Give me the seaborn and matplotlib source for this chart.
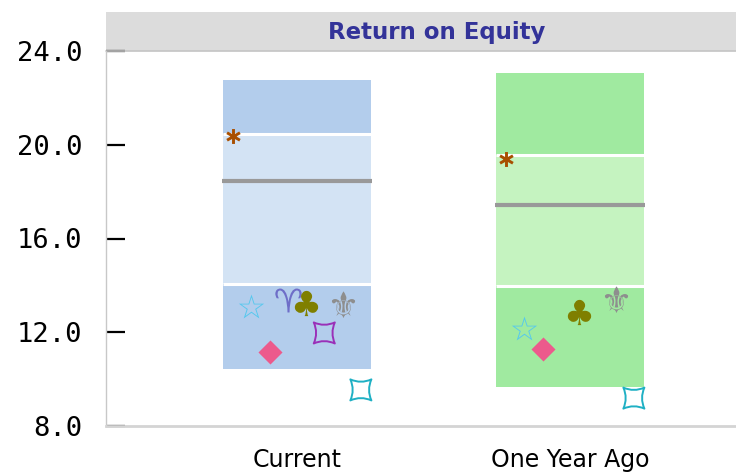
import numpy as np
import pandas as pd
import matplotlib
matplotlib.use("Agg")
import matplotlib.pyplot as plt
from matplotlib.path import Path
from matplotlib.patches import Rectangle
import seaborn as sns

# Return on equity distribution per period
categories = ["Current", "One Year Ago"]
range_low = [10.43, 9.66]
range_high = [22.76, 23.06]
quartile_low = [14.06, 13.97]
quartile_high = [20.44, 19.56]
median = [18.45, 17.43]

# Peer company values per period (nan where no value)
peer_names = ["Peer A", "Peer B", "Peer C", "Peer D", "Peer E", "Peer F", "Peer G", "Peer H"]
peer_a = [20.37, 19.39]
peer_b = [13.12, 12.18]
peer_c = [11.16, 11.28]
peer_d = [13.38, np.nan]
peer_e = [13.25, 12.86]
peer_f = [11.97, np.nan]
peer_g = [13.20, 13.42]
peer_h = [9.54, 9.19]
peer_values = [peer_a, peer_b, peer_c, peer_d, peer_e, peer_f, peer_g, peer_h]

y_ticks = [8, 12, 16, 20, 24]

# concave-sided square marker
k = 0.55
concave_square = Path(
    [(-1, -1), (0, -k), (1, -1), (k, 0), (1, 1), (0, k), (-1, 1), (-k, 0), (-1, -1), (-1, -1)],
    [Path.MOVETO, Path.CURVE3, Path.LINETO, Path.CURVE3, Path.LINETO,
     Path.CURVE3, Path.LINETO, Path.CURVE3, Path.LINETO, Path.CLOSEPOLY],
)

# six-spoke asterisk marker
spokes = []
codes = []
for ang in np.deg2rad([90, 150, 210]):
    dx, dy = np.cos(ang), np.sin(ang)
    spokes += [(-dx, -dy), (dx, dy)]
    codes += [Path.MOVETO, Path.LINETO]
asterisk = Path(spokes, codes)

peer_styles = [
    dict(marker=asterisk, color="#a84f00", s=115, linewidth=2.1, mode="line"),
    dict(marker="$\u2606$", color="#55c8ee", s=330, linewidth=0, mode="fill"),
    dict(marker="D", color="#ec5a8c", s=150, linewidth=0, mode="fill"),
    dict(marker="$\u2648$", color="#6e6ec8", s=360, linewidth=0, mode="fill"),
    dict(marker="$\u2663$", color="#7f7f00", s=330, linewidth=0, mode="fill"),
    dict(marker=concave_square, color="#9a30b8", s=230, linewidth=1.4, mode="outline"),
    dict(marker="$\u269C$", color="#8e8e8e", s=360, linewidth=0, mode="fill"),
    dict(marker=concave_square, color="#1fb0c4", s=230, linewidth=1.4, mode="outline"),
]
slot_offsets = [-0.234, -0.167, -0.100, -0.033, 0.033, 0.100, 0.167, 0.234]

sns.set_theme(style="white")
plt.rcParams["font.family"] = ["DejaVu Sans"]

fig = plt.figure(figsize=(7.36, 4.74), dpi=100)
ax = fig.add_axes([106 / 736, 1 - 426 / 474, 662 / 736, 375 / 474])

x = np.arange(len(categories))
box_w = 0.54
outer_colors = ["#b3cdec", "#a0eaa0"]
inner_colors = ["#d3e3f4", "#c5f3c0"]

lo = np.array(range_low)
hi = np.array(range_high)
q1 = np.array(quartile_low)
q3 = np.array(quartile_high)
ax.bar(x, hi - lo, bottom=lo, width=box_w, color=outer_colors, linewidth=0, zorder=1)
ax.bar(x, q3 - q1, bottom=q1, width=box_w, color=inner_colors, linewidth=0, zorder=2)
for i in range(len(categories)):
    ax.hlines([q1[i], q3[i]], x[i] - box_w / 2, x[i] + box_w / 2, colors="white", linewidth=2.2, zorder=3)
    ax.hlines(median[i], x[i] - box_w / 2 - 0.004, x[i] + box_w / 2 + 0.004,
              colors="#999999", linewidth=3, zorder=4)

for name, vals, style, off in zip(peer_names, peer_values, peer_styles, slot_offsets):
    df = pd.DataFrame({"x": x + off, "y": vals}).dropna()
    kw = dict(marker=style["marker"], s=style["s"], linewidth=style["linewidth"], zorder=5, legend=False)
    if style["mode"] == "outline":
        kw.update(facecolor="none", edgecolor=style["color"])
    else:
        kw.update(color=style["color"], edgecolor=style["color"])
    sns.scatterplot(data=df, x="x", y="y", ax=ax, **kw)

ax.set_xlim(-0.6996, -0.6996 + 662 / 273)
ax.set_ylim(8, 24)
ax.set_yticks(y_ticks)
ax.set_yticklabels([f"{v:.1f}" for v in y_ticks], family="DejaVu Sans Mono", fontsize=19.5, color="black")
ax.set_xticks(x)
ax.set_xticklabels(categories, fontsize=17, color="black")
ax.tick_params(axis="y", direction="in", length=14, width=1.6, color="black", pad=17, left=True)
ax.tick_params(axis="x", length=0, pad=16)
ax.set_xlabel("")
ax.set_ylabel("")

for side in ["top", "right"]:
    ax.spines[side].set_visible(False)
ax.spines["left"].set_color("#c8c8c8")
ax.spines["left"].set_linewidth(1)
ax.spines["bottom"].set_color("#d4d4d4")
ax.spines["bottom"].set_linewidth(2)

# title band
band = Rectangle((0, 1), 1, 39 / 375, transform=ax.transAxes, facecolor="#dcdcdc",
                 edgecolor="none", clip_on=False, zorder=0)
ax.add_patch(band)
ax.plot([0, 1], [1, 1], transform=ax.transAxes, color="#c4c4c4", linewidth=1.2, clip_on=False)
ax.text(0.5, 1 + 19 / 375, "Return on Equity", transform=ax.transAxes, ha="center", va="center",
        fontsize=16.5, fontweight="bold", family="DejaVu Sans", color="#333399")

fig.savefig("out.png", dpi=100)
